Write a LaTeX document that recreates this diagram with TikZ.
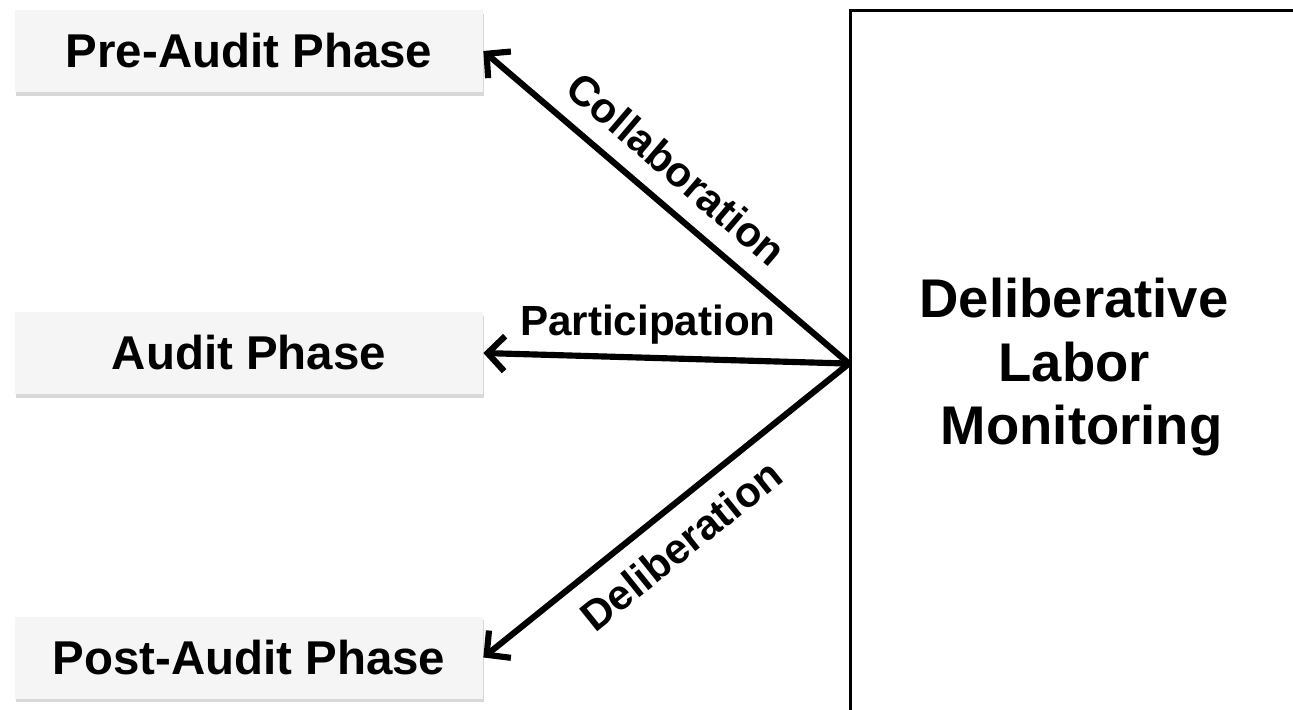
\documentclass[tikz,border=0pt]{standalone}
\usepackage{fontspec}
\setmainfont{Liberation Sans}
\usetikzlibrary{arrows.meta,positioning,calc,shadows}
\tikzset{
  phase/.style={fill=black!4,minimum width=9.36cm,minimum height=1.64cm,inner sep=0pt,
                font=\fontsize{27}{32}\selectfont\bfseries,
                drop shadow={shadow xshift=0.6pt,shadow yshift=-2pt,fill=black!30}},
  hubbox/.style={draw,line width=1.8pt,anchor=north west,minimum width=8.94cm,
                 minimum height=14.26cm,align=center,
                 font=\fontsize{31}{36}\selectfont\bfseries},
  flow/.style={line width=3.5pt,{Straight Barb[length=3.4mm,width=7mm]}-{}},
  lbl/.style={font=\fontsize{24}{28}\selectfont\bfseries,inner sep=2pt}
}
\begin{document}
\begin{tikzpicture}
  % page = reference frame; the right box runs off its edges
  \clip (0,0) rectangle (25.86,-14.2);
  \node[phase] (pre) at (4.98,-1.02) {Pre-Audit Phase};
  \node[phase] (aud) at (4.98,-7.06) {Audit Phase};
  \node[phase] (post) at (4.98,-13.15) {Post-Audit Phase};
  \node[hubbox] (dlm) at (16.98,-0.18) {Deliberative\\Labor\\\mbox{}\ Monitoring};
  \coordinate (hub) at ($(dlm.west)+(0,0.07)$);
  % three arrows fan out from the box to the phases
  \draw[flow] (pre.east) -- node[lbl,sloped,above=8pt,pos=0.465]{Collaboration} (hub);
  \draw[flow] (aud.east) -- node[lbl,above=4pt,pos=0.45]{Participation} (hub);
  \draw[flow] (post.east) -- node[lbl,sloped,below=8pt,pos=0.478]{Deliberation} (hub);
\end{tikzpicture}
\end{document}
